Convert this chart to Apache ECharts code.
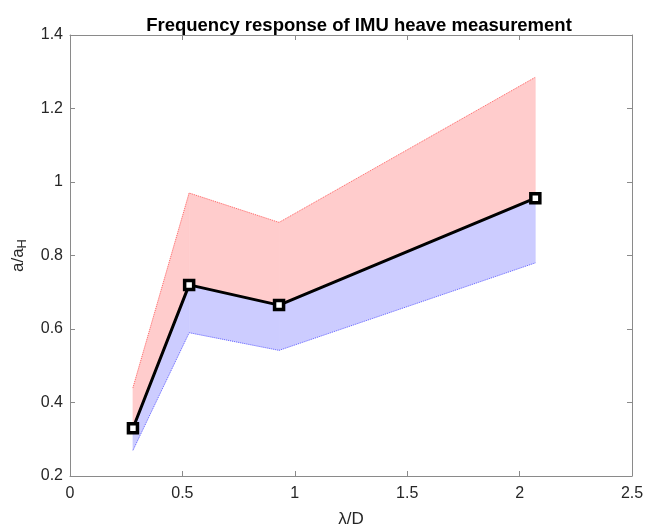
<!DOCTYPE html>
<html><head><meta charset="utf-8">
<script src="https://cdn.jsdelivr.net/npm/echarts@6/dist/echarts.min.js"></script>
<style>html,body{margin:0;padding:0;background:#fff}#c{width:648px;height:527px}</style>
</head><body><div id="c"></div>
<script>
const xVals = [0.28, 0.53, 0.93, 2.07];
const meanVals = [0.33, 0.72, 0.665, 0.956];
const upperVals = [0.44, 0.97, 0.89, 1.285];
const lowerVals = [0.27, 0.59, 0.542, 0.78];
const xTicks = [0, 0.5, 1, 1.5, 2, 2.5];
const yTicks = [0.2, 0.4, 0.6, 0.8, 1, 1.2, 1.4];

const pairs = (ys) => xVals.map((x, i) => [x, ys[i]]);
const bandData = xVals.slice(0, -1).map((x, i) => [i]);

function bandRenderer(topArr, botArr, color) {
  return function (params, api) {
    const i = api.value(0);
    const pts = [
      api.coord([xVals[i], topArr[i]]),
      api.coord([xVals[i + 1], topArr[i + 1]]),
      api.coord([xVals[i + 1], botArr[i + 1]]),
      api.coord([xVals[i], botArr[i]])
    ];
    return { type: 'polygon', shape: { points: pts }, style: { fill: color, stroke: color, lineWidth: 0.6 } };
  };
}

const axisColor = '#8a8a8a';
const labelColor = '#262626';
const font = 'Liberation Sans, Arial, sans-serif';

const chart = echarts.init(document.getElementById('c'));
chart.setOption({
  animation: false,
  title: {
    text: 'Frequency response of IMU heave measurement',
    left: 354, top: 11, textAlign: 'center',
    textStyle: { fontFamily: font, fontSize: 18.5, fontWeight: 'bold', color: '#000' }
  },
  grid: { left: 70, right: 16, top: 35, bottom: 51, containLabel: false, outerBoundsMode: 'none' },
  xAxis: [{
    type: 'value', min: 0, max: 2.5, interval: 0.5,
    name: 'λ/D', nameLocation: 'middle', nameGap: 35,
    nameTextStyle: { fontFamily: font, fontSize: 17, color: labelColor },
    axisLine: { show: true, lineStyle: { color: axisColor } },
    axisTick: { show: true, inside: true, length: 5, lineStyle: { color: axisColor } },
    axisLabel: { fontFamily: font, fontSize: 16, color: labelColor, margin: 10,
      formatter: v => { const t = xTicks.find(a => Math.abs(a - v) < 1e-9); return t === undefined ? '' : String(t); } },
    splitLine: { show: false }
  }, {
    type: 'value', position: 'top', min: 0, max: 2.5, interval: 0.5,
    axisLine: { show: true, onZero: false, lineStyle: { color: axisColor } },
    axisTick: { show: true, inside: true, length: 5, lineStyle: { color: axisColor } },
    axisLabel: { show: false }, splitLine: { show: false }
  }],
  yAxis: [{
    type: 'value', min: 0.2, max: 1.4, interval: 0.2,
    name: '{a|a/a}{s|H}', nameLocation: 'middle', nameGap: 41, nameRotate: 90,
    nameTextStyle: { rich: {
      a: { fontFamily: font, fontSize: 17, color: labelColor },
      s: { fontFamily: font, fontSize: 13, color: labelColor, verticalAlign: 'bottom', padding: [9, 0, 0, 0] }
    } },
    axisLine: { show: true, lineStyle: { color: axisColor } },
    axisTick: { show: true, inside: true, length: 5, lineStyle: { color: axisColor } },
    axisLabel: { fontFamily: font, fontSize: 16, color: labelColor, margin: 7,
      formatter: v => { const t = yTicks.find(a => Math.abs(a - v) < 1e-9); return t === undefined ? '' : String(t); } },
    splitLine: { show: false }
  }, {
    type: 'value', position: 'right', min: 0.2, max: 1.4, interval: 0.2,
    axisLine: { show: true, onZero: false, lineStyle: { color: axisColor } },
    axisTick: { show: true, inside: true, length: 5, lineStyle: { color: axisColor } },
    axisLabel: { show: false }, splitLine: { show: false }
  }],
  series: [
    { type: 'custom', data: bandData, renderItem: bandRenderer(upperVals, meanVals, '#ffcccc'), z: 1 },
    { type: 'custom', data: bandData, renderItem: bandRenderer(meanVals, lowerVals, '#ccccff'), z: 1 },
    { type: 'line', data: pairs(upperVals), symbol: 'none', lineStyle: { color: '#ff6666', width: 1, type: 'dotted' }, z: 2 },
    { type: 'line', data: pairs(lowerVals), symbol: 'none', lineStyle: { color: '#6666ff', width: 1, type: 'dotted' }, z: 2 },
    { type: 'line', data: pairs(meanVals), symbol: 'rect', symbolSize: 9,
      lineStyle: { color: '#000', width: 3 },
      itemStyle: { color: '#fff', borderColor: '#000', borderWidth: 3.5 }, z: 3 }
  ]
});
</script></body></html>
